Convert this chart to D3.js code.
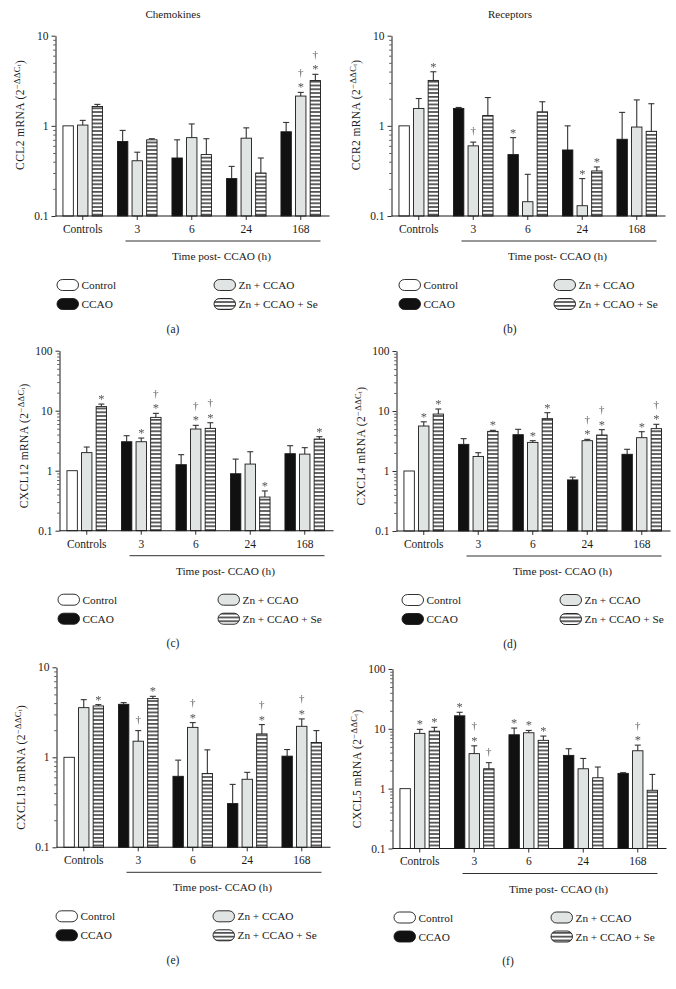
<!DOCTYPE html>
<html><head><meta charset="utf-8">
<script src="https://cdn.jsdelivr.net/npm/d3@7"></script>
<style>
html,body{margin:0;padding:0;background:#fff;}
svg{display:block;font-family:"Liberation Serif","DejaVu Serif",serif;}
</style></head>
<body>
<svg id="chart" width="676" height="989"></svg>
<script>
// ---------- data ----------
const groups = ["Controls", "3", "6", "24", "168"];
const legendSeries = ["Control", "Zn + CCAO", "CCAO", "Zn + CCAO + Se"];
const majorTicks10 = [0.1, 1, 10];
const majorTicks100 = [0.1, 1, 10, 100];
const xTitle = "Time post- CCAO (h)";

// bar order in each group: [Control or CCAO, Zn + CCAO, Zn + CCAO + Se]
const ccl2Mean  = [[1, 1.02, 1.64], [0.67, 0.41, 0.70], [0.44, 0.74, 0.48], [0.26, 0.73, 0.30], [0.86, 2.14, 3.18]];
const ccl2Upper = [[null, 1.15, 1.73], [0.89, 0.51, 0.72], [0.70, 1.05, 0.72], [0.355, 0.95, 0.44], [1.09, 2.35, 3.73]];
const ccl2Marks = [["", "", ""], ["", "", ""], ["", "", ""], ["", "", ""], ["", "*†", "*†"]];

const ccr2Mean  = [[1, 1.56, 3.19], [1.56, 0.60, 1.30], [0.48, 0.144, 1.43], [0.54, 0.13, 0.316], [0.71, 0.97, 0.87]];
const ccr2Upper = [[null, 2.01, 3.98], [1.60, 0.66, 2.06], [0.74, 0.29, 1.85], [1.0, 0.26, 0.35], [1.41, 1.94, 1.76]];
const ccr2Marks = [["", "", "*"], ["", "†", ""], ["*", "", ""], ["", "*", "*"], ["", "", ""]];

const cxcl12Mean  = [[1, 2.0, 11.7], [3.04, 3.04, 7.74], [1.26, 4.95, 5.08], [0.89, 1.29, 0.364], [1.92, 1.89, 3.37]];
const cxcl12Upper = [[null, 2.48, 12.9], [3.83, 3.5, 9.03], [1.85, 5.7, 6.3], [1.56, 2.07, 0.46], [2.61, 2.42, 3.69]];
const cxcl12Marks = [["", "", "*"], ["", "*", "*†"], ["", "*†", "*†"], ["", "", "*"], ["", "", "*"]];

const cxcl4Mean  = [[1, 5.62, 8.9], [2.78, 1.75, 4.58], [4.03, 3.0, 7.45], [0.71, 3.2, 3.98], [1.9, 3.59, 5.08]];
const cxcl4Upper = [[null, 6.6, 10.8], [3.46, 2.02, 4.76], [4.95, 3.2, 9.38], [0.79, 3.37, 4.89], [2.3, 4.52, 6.0]];
const cxcl4Marks = [["", "*", "*"], ["", "", "*"], ["", "*", "*"], ["", "*†", "*†"], ["", "*", "*†"]];

const cxcl13Mean  = [[1, 3.56, 3.72], [3.88, 1.51, 4.49], [0.615, 2.15, 0.66], [0.306, 0.57, 1.82], [1.03, 2.21, 1.46]];
const cxcl13Upper = [[null, 4.37, 3.85], [4.05, 1.98, 4.76], [0.93, 2.43, 1.21], [0.50, 0.68, 2.31], [1.22, 2.67, 1.98]];
const cxcl13Marks = [["", "", "*"], ["", "†", "*"], ["", "*†", ""], ["", "", "*†"], ["", "*†", ""]];

const cxcl5Mean  = [[1, 8.4, 9.15], [16.5, 3.85, 2.15], [7.96, 8.6, 6.42], [3.6, 2.15, 1.52], [1.8, 4.3, 0.94]];
const cxcl5Upper = [[null, 9.8, 10.6], [18.9, 5.2, 2.72], [10.3, 9.4, 7.57], [4.65, 3.2, 2.3], [1.85, 5.34, 1.73]];
const cxcl5Marks = [["", "*", "*"], ["*", "*†", "†"], ["*", "*", "*"], ["", "", ""], ["", "*†", ""]];

// ---------- layout ----------
const panels = [
  {letter: "(a)", gene: "CCL2",   mean: ccl2Mean,   upper: ccl2Upper,   marks: ccl2Marks,   max: 10,  x0: 55.5,  yTop: 35.7,  yBot: 216,   legX: [57, 214],  letterX: 173, ytOff: -11, title: "Chemokines", titleX: 173},
  {letter: "(b)", gene: "CCR2",   mean: ccr2Mean,   upper: ccr2Upper,   marks: ccr2Marks,   max: 10,  x0: 391.5, yTop: 35.7,  yBot: 216,   legX: [399, 554], letterX: 510, ytOff: -11, title: "Receptors",  titleX: 510},
  {letter: "(c)", gene: "CXCL12", mean: cxcl12Mean, upper: cxcl12Upper, marks: cxcl12Marks, max: 100, x0: 59.5,  yTop: 350.7, yBot: 530.7, legX: [58, 218],  letterX: 173, ytOff: 5},
  {letter: "(d)", gene: "CXCL4",  mean: cxcl4Mean,  upper: cxcl4Upper,  marks: cxcl4Marks,  max: 100, x0: 396.5, yTop: 351,   yBot: 531,   legX: [402, 560], letterX: 510, ytOff: 5},
  {letter: "(e)", gene: "CXCL13", mean: cxcl13Mean, upper: cxcl13Upper, marks: cxcl13Marks, max: 10,  x0: 56.5,  yTop: 667.3, yBot: 847.3, legX: [56, 213],  letterX: 173, ytOff: 10},
  {letter: "(f)", gene: "CXCL5",  mean: cxcl5Mean,  upper: cxcl5Upper,  marks: cxcl5Marks,  max: 100, x0: 392.5, yTop: 669,   yBot: 848.5, legX: [394, 551], letterX: 508, ytOff: 10}
];

const colors = {
  "Control": "#ffffff",
  "CCAO": "#111111",
  "Zn + CCAO": "#e0e4e3",
  "Zn + CCAO + Se": "url(#stripes)"
};
const ink = "#1a1a1a";
const markColor = "#555555";

const svg = d3.select("#chart");
svg.append("rect").attr("width", 676).attr("height", 989).attr("fill", "#fff");

const defs = svg.append("defs");
const pat = defs.append("pattern").attr("id", "stripes")
  .attr("patternUnits", "userSpaceOnUse").attr("width", 6).attr("height", 3.8);
pat.append("rect").attr("width", 6).attr("height", 3.8).attr("fill", "#fff");
pat.append("rect").attr("x", 0).attr("y", 1.2).attr("width", 6).attr("height", 1.3).attr("fill", "#111");
const gs = defs.append("filter").attr("id", "gray").attr("x", "-20%").attr("y", "-20%").attr("width", "140%").attr("height", "140%");
gs.append("feColorMatrix").attr("type", "saturate").attr("values", 0);

function seriesOf(gi, bi) {
  if (bi === 0) return gi === 0 ? "Control" : "CCAO";
  return bi === 1 ? "Zn + CCAO" : "Zn + CCAO + Se";
}

panels.forEach(p => {
  const g = svg.append("g");
  const x = d3.scaleBand().domain(groups).range([p.x0, p.x0 + 272.5]).paddingInner(0).paddingOuter(0);
  const xs = d3.scaleBand().domain([0, 1, 2]).range([-19.8, 19.8]).paddingInner(0.288).paddingOuter(0);
  const y = d3.scaleLog().domain([0.1, p.max]).range([p.yBot, p.yTop]);

  const bars = [];
  groups.forEach((gr, gi) => {
    [0, 1, 2].forEach(bi => {
      bars.push({group: gr, gi, bi, series: seriesOf(gi, bi),
        v: p.mean[gi][bi], up: p.upper[gi][bi], mark: p.marks[gi][bi]});
    });
  });
  const bx = d => x(d.group) + x.bandwidth() / 2 + xs(d.bi);
  const cx = d => bx(d) + xs.bandwidth() / 2;

  // error bars
  const eb = bars.filter(d => d.up != null);
  g.selectAll(".err").data(eb).join("line")
    .attr("x1", cx).attr("x2", cx)
    .attr("y1", d => y(d.v)).attr("y2", d => y(d.up))
    .attr("stroke", "#333").attr("stroke-width", 1.1);
  g.selectAll(".cap").data(eb).join("line")
    .attr("x1", d => cx(d) - 3).attr("x2", d => cx(d) + 3)
    .attr("y1", d => y(d.up)).attr("y2", d => y(d.up))
    .attr("stroke", "#333").attr("stroke-width", 1.1);

  // bars
  g.selectAll(".bar").data(bars).join("rect")
    .attr("x", bx).attr("width", xs.bandwidth())
    .attr("y", d => y(d.v)).attr("height", d => p.yBot - y(d.v))
    .attr("fill", d => colors[d.series])
    .attr("stroke", ink).attr("stroke-width", 0.9);

  // significance marks
  const mg = g.append("g").attr("filter", "url(#gray)");
  bars.filter(d => d.mark).forEach(d => {
    const top = y(d.up != null ? d.up : d.v);
    const hasStar = d.mark.includes("*");
    const hasDag = d.mark.includes("†");
    if (hasStar) {
      mg.append("text").attr("x", cx(d)).attr("y", top - 7 + 6)
        .attr("text-anchor", "middle").attr("font-size", 12.5).attr("fill", markColor).text("*");
    }
    if (hasDag) {
      const c = hasStar ? top - 20 : top - 11.5;
      mg.append("text").attr("x", cx(d)).attr("y", c + 3.5)
        .attr("text-anchor", "middle").attr("font-size", 11).attr("fill", markColor).text("†");
    }
  });

  // y axis
  const majors = p.max === 10 ? majorTicks10 : majorTicks100;
  const minors = [];
  majors.slice(0, -1).forEach(m => { for (let k = 2; k <= 9; k++) minors.push(+(m * k).toPrecision(3)); });
  const yAxis = d3.axisLeft(y).tickValues(majors).tickSize(4).tickSizeOuter(0).tickPadding(3)
    .tickFormat(d => d < 1 ? "0.1" : String(d));
  const ya = g.append("g").attr("transform", `translate(${p.x0},0)`).call(yAxis);
  ya.select(".domain").attr("stroke", ink).attr("stroke-width", 1);
  ya.selectAll(".tick line").attr("stroke", ink).attr("stroke-width", 0.9);
  ya.selectAll(".tick text").attr("font-family", '"Liberation Serif",serif').attr("font-size", 11.5).attr("fill", ink);
  const yMinor = d3.axisLeft(y).tickValues(minors).tickSize(2.3).tickSizeOuter(0).tickFormat("");
  const ym = g.append("g").attr("transform", `translate(${p.x0},0)`).call(yMinor);
  ym.select(".domain").remove();
  ym.selectAll(".tick line").attr("stroke", ink).attr("stroke-width", 0.7);

  // x axis
  const xAxis = d3.axisBottom(x).tickSize(4).tickSizeOuter(0).tickPadding(4.8);
  const xa = g.append("g").attr("transform", `translate(0,${p.yBot})`).call(xAxis);
  xa.select(".domain").remove();
  xa.selectAll(".tick line").attr("stroke", ink).attr("stroke-width", 0.9);
  xa.selectAll(".tick text").attr("font-family", '"Liberation Serif",serif').attr("font-size", 11.5).attr("fill", ink);
  g.append("line").attr("x1", p.x0).attr("x2", p.x0 + 274).attr("y1", p.yBot).attr("y2", p.yBot)
    .attr("stroke", ink).attr("stroke-width", 1.1);

  // underline + x title
  g.append("line").attr("x1", p.x0 + 70).attr("x2", p.x0 + 265)
    .attr("y1", p.yBot + 25).attr("y2", p.yBot + 25).attr("stroke", ink).attr("stroke-width", 0.9);
  g.append("text").attr("x", p.x0 + 166).attr("y", p.yBot + 44)
    .attr("text-anchor", "middle").attr("font-size", 11.3).attr("fill", ink).text(xTitle);

  // y title
  const yt = g.append("text")
    .attr("transform", `translate(${p.x0 - 31.5},${(p.yTop + p.yBot) / 2 + p.ytOff}) rotate(-90)`)
    .attr("text-anchor", "middle").attr("font-size", 11.5).attr("letter-spacing", 0.4).attr("fill", ink);
  yt.append("tspan").text(p.gene + " mRNA (2");
  yt.append("tspan").attr("dy", -4.5).attr("font-size", 8.5).text("−ΔΔC");
  yt.append("tspan").attr("dy", 1.5).attr("font-size", 6).text("t");
  yt.append("tspan").attr("dy", 3).attr("font-size", 11.5).text(")");

  // legend
  const rows = [p.yBot + 69, p.yBot + 88];
  const items = [
    {name: legendSeries[0], col: 0, row: 0},
    {name: legendSeries[1], col: 1, row: 0},
    {name: legendSeries[2], col: 0, row: 1},
    {name: legendSeries[3], col: 1, row: 1}
  ];
  items.forEach(it => {
    const lx = p.legX[it.col], ly = rows[it.row];
    g.append("rect").attr("x", lx).attr("y", ly - 5.5).attr("width", 21.5).attr("height", 11)
      .attr("rx", 5.5).attr("ry", 5.5)
      .attr("fill", colors[it.name]).attr("stroke", ink).attr("stroke-width", 0.9);
    g.append("text").attr("x", lx + 24.5).attr("y", ly + 4)
      .attr("font-size", 11.3).attr("fill", ink).text(it.name);
  });

  // panel letter
  g.append("text").attr("x", p.letterX).attr("y", p.yBot + 116.5)
    .attr("text-anchor", "middle").attr("font-size", 11.5).attr("fill", ink).text(p.letter);

  if (p.title) {
    g.append("text").attr("x", p.titleX).attr("y", 17.5)
      .attr("text-anchor", "middle").attr("font-size", 11).attr("fill", ink).text(p.title);
  }
});
</script>
</body></html>
